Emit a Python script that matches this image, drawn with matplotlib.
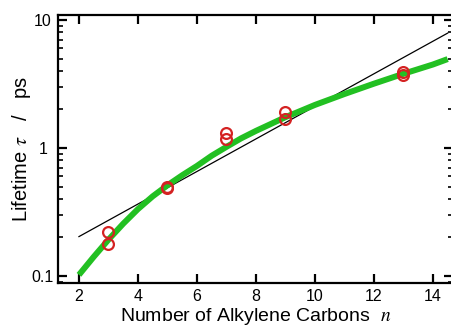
import matplotlib
matplotlib.use("Agg")
import matplotlib.pyplot as plt
from matplotlib.ticker import LogLocator, NullFormatter, FixedLocator

plt.rcParams["font.family"] = ["Liberation Sans", "DejaVu Sans"]
plt.rcParams["mathtext.fontset"] = "stix"

# measured lifetimes (two runs per chain length)
N_DATA = [3, 3, 5, 5, 7, 7, 9, 9, 13, 13]
TAU_DATA = [0.222, 0.177, 0.50, 0.485, 1.32, 1.18, 1.90, 1.69, 3.95, 3.74]

# straight (exponential) fit
N_EXP = [2, 14.5]
TAU_EXP = [0.203, 7.9]

# model curve
N_MODEL = [2, 2.5, 3, 3.5, 4, 4.5, 5, 5.5, 6, 6.5, 7, 7.5, 8, 9, 10, 11, 12,
           13, 14, 14.5]
TAU_MODEL = [0.102, 0.141, 0.192, 0.256, 0.333, 0.419, 0.511, 0.612, 0.724,
             0.87, 1.02, 1.19, 1.36, 1.74, 2.17, 2.64, 3.18, 3.80, 4.49, 4.95]

X_TICKS = [2, 4, 6, 8, 10, 12, 14]
Y_TICKS = [0.1, 1, 10]
Y_LABELS = ["0.1", "1", "10"]

fig = plt.figure(figsize=(4.52, 3.29), dpi=100)
ax = fig.add_axes([58 / 452, 46 / 329, 395 / 452, 268 / 329])

ax.plot(N_EXP, TAU_EXP, color="black", linewidth=0.9, zorder=2)
ax.plot(N_MODEL, TAU_MODEL, color="#22c022", linewidth=4.3,
        solid_capstyle="butt", solid_joinstyle="round", zorder=3)
ax.plot(N_DATA, TAU_DATA, linestyle="none", marker="o", markersize=7.8,
        markerfacecolor="none", markeredgecolor="#d42222",
        markeredgewidth=1.6, zorder=4)

ax.set_yscale("log")
ax.set_xlim(1.29, 14.68)
ax.set_ylim(0.0881, 10.94)

ax.xaxis.set_major_locator(FixedLocator(X_TICKS))
ax.set_xticklabels([str(t) for t in X_TICKS])
ax.yaxis.set_major_locator(FixedLocator(Y_TICKS))
ax.set_yticklabels(Y_LABELS)
ax.yaxis.set_minor_locator(LogLocator(base=10, subs=range(2, 10), numticks=10))
ax.yaxis.set_minor_formatter(NullFormatter())

for side in ax.spines.values():
    side.set_linewidth(1.6)
    side.set_zorder(5)

ax.tick_params(axis="both", which="major", direction="in", length=6.5,
               width=1.6, top=True, right=True, labelsize=11.5,
               colors="black")
ax.tick_params(axis="x", which="major", pad=4.5)
ax.tick_params(axis="y", which="major", pad=10.8)
ax.tick_params(axis="y", which="minor", direction="in", length=3.5,
               width=1.2, right=True)
for lbl in ax.get_yticklabels():
    lbl.set_horizontalalignment("center")

ax.set_xlabel("Number of Alkylene Carbons  $n$", fontsize=14, labelpad=1)
ax.set_ylabel("Lifetime $\\tau$   /   ps", fontsize=14.5, labelpad=-1)

fig.savefig("out.png", dpi=100)
